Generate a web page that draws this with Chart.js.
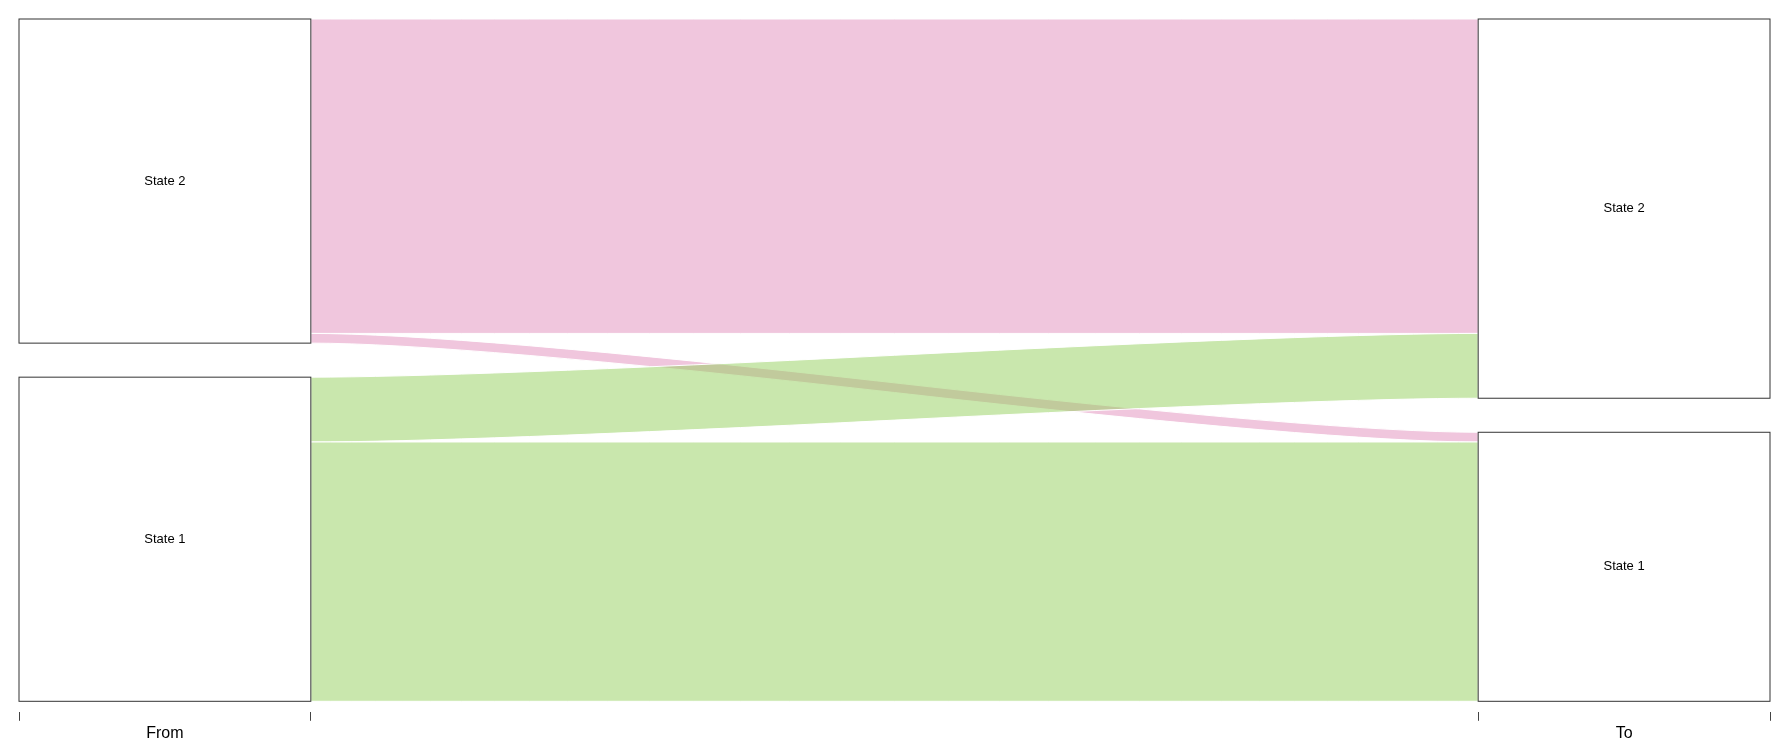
<!DOCTYPE html>
<html><head><meta charset="utf-8">
<script src="https://cdn.jsdelivr.net/npm/chart.js@4.4.1/dist/chart.umd.min.js"></script>
<style>html,body{margin:0;padding:0;background:#fff}</style>
</head><body>
<canvas id="c" width="1790" height="740"></canvas>
<script>
// ---- data ----
const strata = ['State 1', 'State 2'];            // stacking order, bottom to top
const axisNames = ['From', 'To'];
const flowFrom  = ['State 2', 'State 2', 'State 1', 'State 1'];
const flowTo    = ['State 2', 'State 1', 'State 2', 'State 1'];
const flowCount = [97, 3, 20, 80];
const tickVals  = [0.9, 1, 1.1, 1.9, 2, 2.1];     // box edges + axis label positions

// ---- layout / style params ----
const GAP = 10.5, CW = 0.1, XW = 0.1, Y_OFFSET = 3.24;
const fillByOrigin = {'State 2': 'rgba(225,141,187,0.5)', 'State 1': 'rgba(147,207,91,0.5)'};
const drawOrder = ['State 2', 'State 1'];
const FONT = "'Liberation Sans', Arial, Helvetica, sans-serif";

function computeLayout() {
  const axes = [flowFrom, flowTo];
  return axes.map((vals, a) => {
    const other = axes[1 - a];
    const ranges = {};
    const flowPos = new Array(flowCount.length);
    let base = 0;
    strata.forEach(s => {
      const idx = flowCount.map((_, i) => i).filter(i => vals[i] === s)
        .sort((p, q) => strata.indexOf(other[p]) - strata.indexOf(other[q]));
      const lo = base;
      idx.forEach(i => { flowPos[i] = [base, base + flowCount[i]]; base += flowCount[i]; });
      ranges[s] = [lo, base];
      base += GAP;
    });
    return {ranges, flowPos, total: base - GAP};
  });
}
const LAYOUT = computeLayout();
const TOTAL = Math.max(...LAYOUT.map(l => l.total));

const alluvialPlugin = {
  id: 'alluvial',
  beforeDatasetsDraw(chart) {
    const {ctx, scales: {x, y}} = chart;
    const Y = v => y.getPixelForValue(v);
    const xs = x.getPixelForValue(1 + CW), xc1 = x.getPixelForValue(1 + CW + XW);
    const xc2 = x.getPixelForValue(2 - CW - XW), xe = x.getPixelForValue(2 - CW);
    const xm = (xc1 + xc2) / 2;
    ctx.save();
    drawOrder.forEach(origin => {
      flowCount.forEach((n, i) => {
        if (flowFrom[i] !== origin) return;
        const [a0, a1] = LAYOUT[0].flowPos[i];
        const [b0, b1] = LAYOUT[1].flowPos[i];
        ctx.beginPath();
        ctx.moveTo(xs, Y(a1));
        ctx.quadraticCurveTo(xc1, Y(a1), xm, (Y(a1) + Y(b1)) / 2);
        ctx.quadraticCurveTo(xc2, Y(b1), xe, Y(b1));
        ctx.lineTo(xe, Y(b0));
        ctx.quadraticCurveTo(xc2, Y(b0), xm, (Y(a0) + Y(b0)) / 2);
        ctx.quadraticCurveTo(xc1, Y(a0), xs, Y(a0));
        ctx.closePath();
        ctx.fillStyle = fillByOrigin[origin];
        ctx.fill();
        ctx.strokeStyle = '#ffffff';
        ctx.lineWidth = 1;
        ctx.stroke();
      });
    });
    ctx.restore();
  },
  afterDatasetsDraw(chart) {
    const {ctx, scales: {x, y}} = chart;
    ctx.save();
    LAYOUT.forEach((lay, a) => {
      const xl = x.getPixelForValue(a + 1 - CW), xr = x.getPixelForValue(a + 1 + CW);
      strata.forEach(s => {
        const [lo, hi] = lay.ranges[s];
        const yt = y.getPixelForValue(hi), yb = y.getPixelForValue(lo);
        ctx.fillStyle = '#fff';
        ctx.fillRect(xl, yt, xr - xl, yb - yt);
        ctx.strokeStyle = '#333';
        ctx.lineWidth = 1;
        ctx.strokeRect(xl, yt, xr - xl, yb - yt);
        ctx.fillStyle = '#000';
        ctx.font = '13px ' + FONT;
        ctx.textAlign = 'center';
        ctx.textBaseline = 'middle';
        ctx.fillText(s, (xl + xr) / 2, (yt + yb) / 2);
      });
    });
    ctx.restore();
  }
};

const isLabelTick = v => Math.abs(v - Math.round(v)) < 1e-6;

new Chart(document.getElementById('c'), {
  type: 'scatter',
  data: {datasets: [{data: []}]},
  options: {
    responsive: false,
    animation: false,
    layout: {padding: {left: 19, right: 20, top: 19, bottom: -6}},
    plugins: {legend: {display: false}, tooltip: {enabled: false}},
    scales: {
      x: {
        type: 'linear', min: 1 - CW, max: 2 + CW,
        afterBuildTicks: s => { s.ticks = tickVals.map(v => ({value: v})); },
        ticks: {
          autoSkip: false, maxRotation: 0, minRotation: 0, padding: 3, color: '#000',
          font: {family: FONT, size: 16},
          callback: v => isLabelTick(v) ? axisNames[Math.round(v) - 1] : ''
        },
        grid: {
          drawOnChartArea: false, drawTicks: true, tickLength: 9, tickWidth: 1,
          tickColor: c => (c.tick && isLabelTick(c.tick.value)) ? 'rgba(0,0,0,0)' : '#444'
        },
        border: {display: false}
      },
      y: {display: false, min: -Y_OFFSET, max: TOTAL}
    }
  },
  plugins: [alluvialPlugin]
});
</script>
</body></html>
